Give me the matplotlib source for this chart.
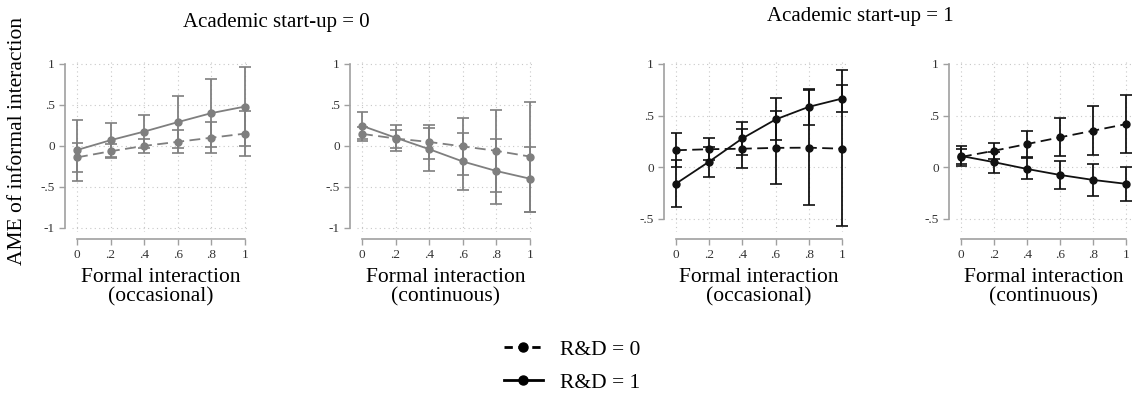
import matplotlib.pyplot as plt
from matplotlib.lines import Line2D
import numpy as np

# x values of the margins plot
xs = [0, .2, .4, .6, .8, 1]

# panel 1: academic start-up = 0, occasional
p1_rd0 = [-0.14, -0.065, 0.0, 0.05, 0.10, 0.15]
p1_rd0_lo = [-0.32, -0.15, -0.09, -0.09, -0.09, -0.12]
p1_rd0_hi = [0.04, 0.02, 0.09, 0.20, 0.29, 0.42]
p1_rd1 = [-0.05, 0.07, 0.175, 0.29, 0.40, 0.48]
p1_rd1_lo = [-0.43, -0.14, -0.03, -0.03, -0.01, 0.0]
p1_rd1_hi = [0.32, 0.28, 0.38, 0.61, 0.81, 0.96]

# panel 2: academic start-up = 0, continuous
p2_rd0 = [0.147, 0.09, 0.048, -0.006, -0.06, -0.13]
p2_rd0_lo = [0.06, -0.02, -0.155, -0.35, -0.56, -0.80]
p2_rd0_hi = [0.235, 0.20, 0.25, 0.335, 0.437, 0.54]
p2_rd1 = [0.245, 0.10, -0.04, -0.19, -0.306, -0.40]
p2_rd1_lo = [0.08, -0.06, -0.30, -0.535, -0.706, -0.80]
p2_rd1_hi = [0.41, 0.26, 0.22, 0.163, 0.09, -0.01]

# panel 3: academic start-up = 1, occasional
p3_rd0 = [0.165, 0.175, 0.18, 0.188, 0.19, 0.18]
p3_rd0_lo = [0.0, 0.07, -0.01, -0.165, -0.363, -0.572]
p3_rd0_hi = [0.33, 0.28, 0.373, 0.54, 0.75, 0.939]
p3_rd1 = [-0.158, 0.055, 0.28, 0.463, 0.585, 0.665]
p3_rd1_lo = [-0.386, -0.096, 0.123, 0.264, 0.408, 0.537]
p3_rd1_hi = [0.07, 0.20, 0.437, 0.666, 0.76, 0.794]

# panel 4: academic start-up = 1, continuous
p4_rd0 = [0.10, 0.16, 0.225, 0.29, 0.354, 0.418]
p4_rd0_lo = [0.03, 0.08, 0.10, 0.106, 0.12, 0.135]
p4_rd0_hi = [0.18, 0.238, 0.35, 0.476, 0.59, 0.70]
p4_rd1 = [0.11, 0.05, -0.016, -0.074, -0.122, -0.16]
p4_rd1_lo = [0.01, -0.058, -0.116, -0.21, -0.28, -0.33]
p4_rd1_hi = [0.21, 0.15, 0.087, 0.06, 0.03, 0.0]

xticks = [0, .2, .4, .6, .8, 1]
xticklabels = ["0", ".2", ".4", ".6", ".8", "1"]
yticks_left = [-1, -.5, 0, .5, 1]
yticklabels_left = ["-1", "-.5", "0", ".5", "1"]
yticks_right = [-.5, 0, .5, 1]
yticklabels_right = ["-.5", "0", ".5", "1"]

plt.rcParams['font.family'] = ['Liberation Serif', 'DejaVu Serif']

W, H = 1132, 394
fig = plt.figure(figsize=(W / 100, H / 100), dpi=100)


def px_axes(left, top, right, bottom):
    return fig.add_axes([left / W, 1 - bottom / H, (right - left) / W, (bottom - top) / H])


def panel(ax, rd0, lo0, hi0, rd1, lo1, hi1, color, yticks, ylabels, ylim, xlab):
    ax.set_xlim(-0.03, 1.03)
    ax.set_ylim(*ylim)
    ax.grid(True, linestyle=(0, (1, 3)), color="#c8c8c8", linewidth=0.8)
    ax.set_axisbelow(True)
    x = np.array(xs)
    for vals, lo, hi, ls in [(rd0, lo0, hi0, (0, (6, 3))), (rd1, lo1, hi1, "-")]:
        vals = np.array(vals)
        err = [vals - np.array(lo), np.array(hi) - vals]
        ax.errorbar(x, vals, yerr=err, fmt="none", ecolor=color, elinewidth=1.3,
                    capsize=4, capthick=1.2)
        ax.plot(x, vals, color=color, linestyle=ls, linewidth=1.3,
                marker="o", markersize=5)
    for s in ["top", "right"]:
        ax.spines[s].set_visible(False)
    ax.spines["left"].set_position(("outward", 5))
    ax.spines["bottom"].set_position(("outward", 5))
    ax.spines["left"].set_bounds(yticks[0], yticks[-1])
    ax.spines["bottom"].set_bounds(0, 1)
    for s in ["left", "bottom"]:
        ax.spines[s].set_color("#a0a0a0")
        ax.spines[s].set_linewidth(1.2)
    ax.set_xticks(xticks)
    ax.set_xticklabels(xticklabels)
    ax.set_yticks(yticks)
    ax.set_yticklabels(ylabels)
    ax.tick_params(colors="#a0a0a0", labelcolor="#333333", labelsize=9.5, length=4, width=1)
    ax.set_xlabel(xlab, fontsize=15.5, linespacing=1.0, labelpad=5)
    ax.patch.set_alpha(0)


gray = "#7f7f7f"
black = "#111111"
ylim_l = (-1.05, 1.06)
ylim_r = (-0.626, 1.048)

ax1 = px_axes(72, 59, 250, 232)
panel(ax1, p1_rd0, p1_rd0_lo, p1_rd0_hi, p1_rd1, p1_rd1_lo, p1_rd1_hi, gray,
      yticks_left, yticklabels_left, ylim_l, "Formal interaction\n(occasional)")
ax2 = px_axes(357, 59, 535, 232)
panel(ax2, p2_rd0, p2_rd0_lo, p2_rd0_hi, p2_rd1, p2_rd1_lo, p2_rd1_hi, gray,
      yticks_left, yticklabels_left, ylim_l, "Formal interaction\n(continuous)")
ax3 = px_axes(671, 59, 847, 232)
panel(ax3, p3_rd0, p3_rd0_lo, p3_rd0_hi, p3_rd1, p3_rd1_lo, p3_rd1_hi, black,
      yticks_right, yticklabels_right, ylim_r, "Formal interaction\n(occasional)")
ax4 = px_axes(956, 59, 1131, 232)
panel(ax4, p4_rd0, p4_rd0_lo, p4_rd0_hi, p4_rd1, p4_rd1_lo, p4_rd1_hi, black,
      yticks_right, yticklabels_right, ylim_r, "Formal interaction\n(continuous)")

fig.text(276 / W, 1 - 23 / H, "Academic start-up = 0", ha="center", va="center", fontsize=15)
fig.text(860 / W, 1 - 17 / H, "Academic start-up = 1", ha="center", va="center", fontsize=15)
fig.text(18 / W, 1 - 141 / H, "AME of informal interaction", rotation=90,
         ha="center", va="center", fontsize=15.5)

handles = [Line2D([], [], color="black", linestyle=(0, (3, 2)), linewidth=2, marker="o", markersize=6.5),
           Line2D([], [], color="black", linestyle="-", linewidth=2, marker="o", markersize=6.5)]
fig.legend(handles, ["R&D = 0", "R&D = 1"], loc="center", bbox_to_anchor=(572 / W, 1 - 366 / H),
           frameon=False, fontsize=15.5, handlelength=1.8, labelspacing=0.6, handletextpad=0.8)

fig.savefig("out.png", dpi=100)
